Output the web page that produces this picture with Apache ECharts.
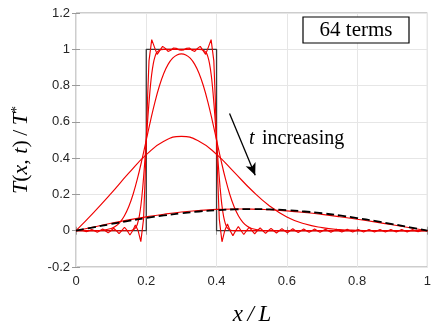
<!DOCTYPE html>
<html><head><meta charset="utf-8">
<script src="https://cdn.jsdelivr.net/npm/echarts@6/dist/echarts.min.js"></script>
<style>html,body{margin:0;padding:0;background:#fff}#c{width:434px;height:327px}</style>
</head><body><div id="c"></div>
<script>
// ---- tick values ----
const xTicks = [0, 0.2, 0.4, 0.6, 0.8, 1];
const yTicks = [-0.2, 0, 0.2, 0.4, 0.6, 0.8, 1, 1.2];

// ---- initial condition (square pulse) ----
const squareX = [0, 0.2, 0.2, 0.4, 0.4, 1];
const squareY = [0, 0, 1, 1, 0, 0];

// ---- t = 0, 64-term series (Gibbs ripples) ----
const gibbsX = [0, 0.014, 0.02175, 0.0295, 0.03725, 0.045, 0.05275, 0.0605, 0.06825, 0.076, 0.08375, 0.0915, 0.09925, 0.107, 0.11475, 0.1225, 0.13025, 0.138, 0.14575, 0.1535, 0.16125, 0.169, 0.17675, 0.1845, 0.19225, 0.1961,
  0.2, 0.2039, 0.20775, 0.2155, 0.22325, 0.231, 0.23875, 0.2465, 0.25425, 0.262, 0.26975, 0.2775, 0.28525, 0.293, 0.3, 0.307, 0.31475, 0.3225, 0.33025, 0.338, 0.34575, 0.3535, 0.36125, 0.369, 0.37675, 0.3845, 0.39225, 0.3961,
  0.4, 0.4039, 0.40775, 0.4155, 0.42325, 0.431, 0.43875, 0.4465, 0.45425, 0.462, 0.46975, 0.4775, 0.48525, 0.493, 0.50075, 0.5085, 0.51625, 0.524, 0.53175, 0.5395, 0.54725, 0.555, 0.56275, 0.5705, 0.57825, 0.586, 0.59375, 0.6015, 0.60925, 0.617, 0.62475, 0.6325, 0.64025, 0.648, 0.65575, 0.6635, 0.67125, 0.679, 0.68675, 0.6945, 0.70225, 0.71, 0.71775, 0.7255, 0.73325, 0.741, 0.74875, 0.7565, 0.76425, 0.772, 0.77975, 0.7875, 0.79525, 0.803, 0.81075, 0.8185, 0.82625, 0.834, 0.84175, 0.8495, 0.85725, 0.865, 0.87275, 0.8805, 0.88825, 0.896, 0.90375, 0.9115, 0.91925, 0.927, 0.93475, 0.9425, 0.95025, 0.958, 0.96575, 0.9735, 0.98125, 0.989, 1];
const gibbsY = [0, 0.0039, 0, -0.0051, 0, 0.0065, 0, -0.008, 0, 0.0097, 0, -0.012, 0, 0.0137, 0, -0.016, 0, 0.019, 0, -0.024, 0, 0.032, 0, -0.060, 0.064, 0.257,
  0.5, 0.743, 0.936, 1.053, 1.012, 0.972, 0.994, 1.016, 1.005, 0.988, 0.995, 1.007, 1.005, 0.997, 0.995, 0.997, 1.005, 1.007, 0.995, 0.988, 1.005, 1.016, 0.994, 0.972, 1.012, 1.053, 0.936, 0.743,
  0.5, 0.257, 0.064, -0.061, 0, 0.037, 0, -0.027, 0, 0.023, 0, -0.021, 0, 0.019, 0, -0.017, 0, 0.0156, 0, -0.0143, 0, 0.0132, 0, -0.0124, 0, 0.0116, 0, -0.011, 0, 0.0104, 0, -0.0099, 0, 0.0095, 0, -0.0091, 0, 0.0088, 0, -0.0085, 0, 0.0082, 0, -0.008, 0, 0.0078, 0, -0.0075, 0, 0.0074, 0, -0.0072, 0, 0.0071, 0, -0.0069, 0, 0.0068, 0, -0.0068, 0, 0.0066, 0, -0.0066, 0, 0.0065, 0, -0.0064, 0, 0.0064, 0, -0.0063, 0, 0.0062, 0, -0.0062, 0, 0.004, 0];

// ---- very small t ----
const t1X = [0, 0.15, 0.16, 0.17, 0.175, 0.18, 0.185, 0.19, 0.195, 0.2, 0.205, 0.21, 0.215, 0.22, 0.225, 0.23, 0.24, 0.25, 0.35, 0.36, 0.37, 0.375, 0.38, 0.385, 0.39, 0.395, 0.4, 0.405, 0.41, 0.415, 0.42, 0.425, 0.43, 0.44, 0.45, 1];
const t1Y = [0, 0.0002, 0.0023, 0.017, 0.0386, 0.0787, 0.1444, 0.2398, 0.3619, 0.5, 0.638, 0.760, 0.856, 0.921, 0.961, 0.983, 0.9977, 0.9998, 0.9998, 0.9977, 0.983, 0.961, 0.921, 0.856, 0.760, 0.638, 0.5, 0.362, 0.240, 0.144, 0.079, 0.039, 0.017, 0.0023, 0.0002, 0];

// ---- small t ----
const t2X = [0, 0.05, 0.075, 0.1, 0.1125, 0.125, 0.1375, 0.15, 0.1625, 0.175, 0.1875, 0.2, 0.2125, 0.225, 0.2375, 0.25, 0.2625, 0.275, 0.2875, 0.3, 0.3125, 0.325, 0.3375, 0.35, 0.3625, 0.375, 0.3875, 0.4, 0.4125, 0.425, 0.4375, 0.45, 0.4625, 0.475, 0.4875, 0.5, 0.525, 0.55, 0.6, 1];
const t2Y = [0, 0.0004, 0.0026, 0.0126, 0.0251, 0.0466, 0.0810, 0.1317, 0.2009, 0.2879, 0.3898, 0.5, 0.6102, 0.7120, 0.7990, 0.8679, 0.9180, 0.9508, 0.9690, 0.9748, 0.9690, 0.9508, 0.9180, 0.8679, 0.7990, 0.7120, 0.6102, 0.5, 0.3898, 0.2879, 0.2009, 0.1317, 0.0810, 0.0466, 0.0251, 0.0126, 0.0026, 0.0004, 0, 0];

// ---- medium t ----
const t3X = [0, 0.05, 0.1, 0.15, 0.2, 0.25, 0.3, 0.35, 0.4, 0.45, 0.5, 0.55, 0.6, 0.65, 0.7, 0.75, 0.8, 0.85, 0.9, 0.95, 1];
const t3Y = [0, 0.100, 0.206, 0.317, 0.419, 0.493, 0.520, 0.493, 0.421, 0.323, 0.223, 0.138, 0.076, 0.038, 0.017, 0.0066, 0.0024, 0.0008, 0.0002, 0, 0];

// ---- large t ----
const t4X = [0, 0.05, 0.1, 0.15, 0.2, 0.25, 0.3, 0.35, 0.4, 0.45, 0.5, 0.55, 0.6, 0.65, 0.7, 0.75, 0.8, 0.85, 0.9, 0.95, 1];
const t4Y = [0, 0.0207, 0.0409, 0.0596, 0.0765, 0.0910, 0.1029, 0.1116, 0.1173, 0.1196, 0.119, 0.1154, 0.1091, 0.1004, 0.0897, 0.0772, 0.0633, 0.0484, 0.0327, 0.0165, 0];

// ---- one-term approximation (dashed) ----
const oneX = [0, 0.05, 0.1, 0.15, 0.2, 0.25, 0.3, 0.35, 0.4, 0.45, 0.5, 0.55, 0.6, 0.65, 0.7, 0.75, 0.8, 0.85, 0.9, 0.95, 1];
const oneY = [0, 0.0186, 0.0368, 0.0540, 0.0699, 0.0841, 0.0963, 0.1060, 0.1132, 0.1175, 0.119, 0.1175, 0.1132, 0.1060, 0.0963, 0.0841, 0.0699, 0.0540, 0.0368, 0.0186, 0];

// ---- annotation arrow (data coords) ----
const arrowFrom = [0.437, 0.646];
const arrowTo = [0.510, 0.306];

const pairs = (xs, ys) => xs.map((x, i) => [x, ys[i]]);
const fmt = v => String(Math.round(v * 10) / 10);

const chart = echarts.init(document.getElementById('c'), null, {renderer: 'canvas'});
const boxColor = '#9a9a9a';
const tickFont = {fontFamily: 'Liberation Sans, Arial, sans-serif', fontSize: 13, color: '#262626'};
const xmin = xTicks[0], xmax = xTicks[xTicks.length - 1], xint = xTicks[1] - xTicks[0];
const ymin = yTicks[0], ymax = yTicks[yTicks.length - 1], yint = yTicks[1] - yTicks[0];

const redLine = (name, xs, ys, smooth) => ({
  name, type: 'line', data: pairs(xs, ys), showSymbol: false, symbol: 'none', smooth: smooth,
  lineStyle: {color: '#f00000', width: 1.15}, z: 3, animation: false
});

chart.setOption({
  animation: false,
  grid: {left: 76, right: 4, top: 13, bottom: 60, show: true, borderColor: boxColor, borderWidth: 1, backgroundColor: 'transparent'},
  xAxis: [{
    type: 'value', min: xmin, max: xmax, interval: xint,
    axisLine: {show: false},
    axisTick: {show: true, inside: true, length: 4, lineStyle: {color: boxColor}},
    axisLabel: Object.assign({margin: 8, formatter: fmt}, tickFont),
    splitLine: {show: true, lineStyle: {color: '#e6e6e6', width: 1}}
  }, {
    type: 'value', position: 'top', min: xmin, max: xmax, interval: xint,
    axisLine: {show: false}, axisTick: {show: true, inside: true, length: 4, lineStyle: {color: boxColor}},
    axisLabel: {show: false}, splitLine: {show: false}
  }],
  yAxis: [{
    type: 'value', min: ymin, max: ymax, interval: yint,
    axisLine: {show: false},
    axisTick: {show: true, inside: true, length: 4, lineStyle: {color: boxColor}},
    axisLabel: Object.assign({margin: 6, formatter: fmt}, tickFont),
    splitLine: {show: true, lineStyle: {color: '#e6e6e6', width: 1}}
  }, {
    type: 'value', position: 'right', min: ymin, max: ymax, interval: yint,
    axisLine: {show: false}, axisTick: {show: true, inside: true, length: 4, lineStyle: {color: boxColor}},
    axisLabel: {show: false}, splitLine: {show: false}
  }],
  series: [
    {name: 'initial', type: 'line', data: pairs(squareX, squareY), showSymbol: false, symbol: 'none',
     lineStyle: {color: '#3a3a3a', width: 1.3}, z: 2},
    redLine('t0', gibbsX, gibbsY, false),
    redLine('t1', t1X, t1Y, 0.3),
    redLine('t2', t2X, t2Y, 0.4),
    redLine('t3', t3X, t3Y, true),
    redLine('t4', t4X, t4Y, true),
    {name: 'one', type: 'line', data: pairs(oneX, oneY), showSymbol: false, symbol: 'none', smooth: true,
     lineStyle: {color: '#000', width: 1.8, type: [8, 4]}, z: 4,
     markLine: {silent: true, symbol: ['none', 'arrow'], symbolSize: [8, 12], animation: false,
       lineStyle: {color: '#000', width: 1.3, type: 'solid'}, label: {show: false},
       data: [[{coord: arrowFrom}, {coord: arrowTo}]]}}
  ],
  graphic: [
    {type: 'rect', shape: {x: 303, y: 17, width: 106, height: 26}, style: {fill: '#fff', stroke: '#000', lineWidth: 1.2}, z: 10},
    {type: 'text', x: 356, y: 30.5, style: {text: '64 terms', font: '21px "Liberation Serif", serif', fill: '#000', align: 'center', verticalAlign: 'middle'}, z: 11},
    {type: 'text', x: 249, y: 139, style: {text: 't', font: 'italic 20px "Liberation Serif", serif', fill: '#000', align: 'left', verticalAlign: 'middle'}, z: 11},
    {type: 'text', x: 262, y: 139, style: {text: 'increasing', font: '20px "Liberation Serif", serif', fill: '#000', align: 'left', verticalAlign: 'middle'}, z: 11},
    {type: 'text', x: 252, y: 315, style: {text: 'x\u2009/\u2009L', font: 'italic 23px "Liberation Serif", serif', fill: '#000', align: 'center', verticalAlign: 'middle'}, z: 11},
    {type: 'text', x: 21, y: 150, rotation: Math.PI / 2,
     style: {text: '{i|T}{r|(}{i|x}{r|, }{i|t}{r|)\u2009/\u2009}{i|T}{s|*}', align: 'center', verticalAlign: 'middle',
       rich: {i: {font: 'italic 22px "Liberation Serif", serif', fill: '#000'},
              r: {font: '22px "Liberation Serif", serif', fill: '#000'},
              s: {font: '14px "Liberation Serif", serif', fill: '#000', verticalAlign: 'top', padding: [0, 0, 8, 0]}}}, z: 11}
  ]
});
</script></body></html>
